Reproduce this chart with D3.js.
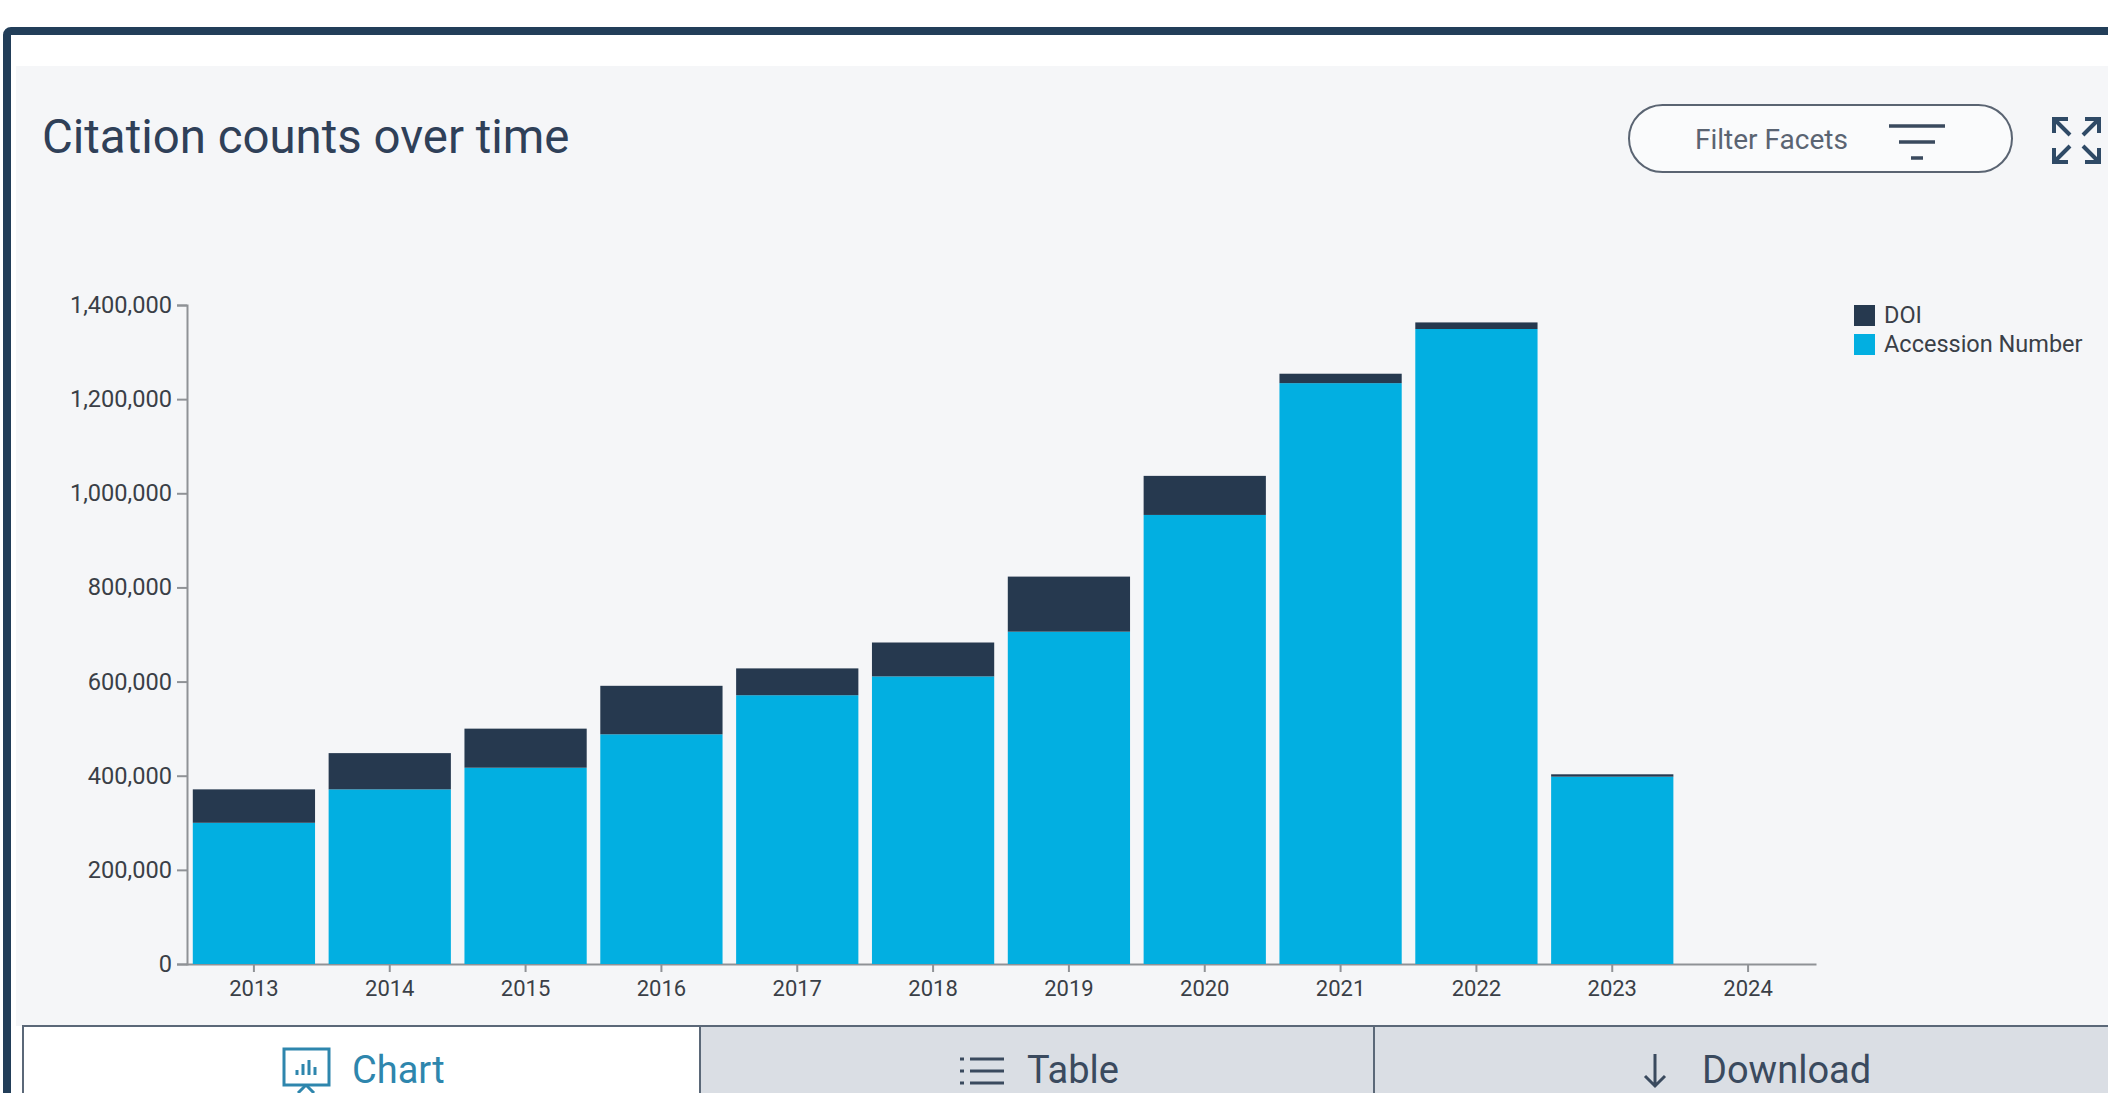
<!DOCTYPE html>
<html>
<head>
<meta charset="utf-8">
<script src="https://cdn.jsdelivr.net/npm/d3@7"></script>
<style>
  html, body { margin: 0; padding: 0; background: #fff; overflow: hidden; }
  text { font-family: "Roboto", "Inter", sans-serif; }
  svg { display: block; }
</style>
</head>
<body>
<svg id="chart" width="2108" height="1093"></svg>
<script>
const years = [2013, 2014, 2015, 2016, 2017, 2018, 2019, 2020, 2021, 2022, 2023, 2024];
const accessionNumber = [300000, 371000, 417000, 488000, 571000, 611000, 706000, 954000, 1234000, 1349000, 398000, 0];
const doi = [71000, 77000, 83000, 103000, 57000, 72000, 117000, 83000, 20000, 14000, 5000, 0];
const seriesNames = ["DOI", "Accession Number"];
const seriesColors = ["#26394f", "#02afe1"];
const yTicks = [0, 200000, 400000, 600000, 800000, 1000000, 1200000, 1400000];
const tabs = ["Chart", "Table", "Download"];

const svg = d3.select("#chart");

// Card frame and panel
svg.append("rect").attr("x", 7).attr("y", 31).attr("width", 2120).attr("height", 1090)
  .attr("rx", 4).attr("fill", "#fff").attr("stroke", "#223e59").attr("stroke-width", 8);
svg.append("rect").attr("x", 16).attr("y", 66).attr("width", 2092).attr("height", 960).attr("fill", "#f5f6f8");

svg.append("text").attr("x", 42).attr("y", 153).attr("font-size", 47.4).attr("fill", "#2f4058")
  .text("Citation counts over time");

// Filter button
svg.append("rect").attr("x", 1629).attr("y", 105).attr("width", 383).attr("height", 67).attr("rx", 33.5)
  .attr("fill", "#fafbfc").attr("stroke", "#5a6472").attr("stroke-width", 2);
svg.append("text").attr("x", 1695).attr("y", 149).attr("font-size", 28).attr("fill", "#5a6472").text("Filter Facets");
[[1889, 1945, 126], [1899, 1935, 142], [1911, 1923, 158]].forEach(([x1, x2, y]) => {
  svg.append("line").attr("x1", x1).attr("x2", x2).attr("y1", y).attr("y2", y)
    .attr("stroke", "#3a4a5e").attr("stroke-width", 3.5);
});

// Expand icon
const arrows = ["M2054 119 L2070 135 M2054 133 V119 H2068", "M2099 119 L2083 135 M2099 133 V119 H2085",
                "M2054 162 L2070 146 M2054 148 V162 H2068", "M2099 162 L2083 146 M2099 148 V162 H2085"];
arrows.forEach(d => svg.append("path").attr("d", d).attr("fill", "none").attr("stroke", "#2f4a66").attr("stroke-width", 4));

// Plot scales
const x = d3.scaleBand().domain(years).range([186, 1816]).paddingInner(0.1).paddingOuter(0.05);
const y = d3.scaleLinear().domain([0, 1400000]).range([964, 305]);

const rows = years.map((yr, i) => ({ year: yr, "Accession Number": accessionNumber[i], "DOI": doi[i] }));
const stacked = d3.stack().keys(["Accession Number", "DOI"])(rows);
const color = d3.scaleOrdinal().domain(seriesNames).range(seriesColors);

// Axes sit under the bars so the columns cover the baseline
const xAxis = svg.append("g").attr("transform", "translate(0,964)")
  .call(d3.axisBottom(x).tickSize(8).tickPadding(8).tickSizeOuter(0));
const yAxis = svg.append("g").attr("transform", "translate(187,0)")
  .call(d3.axisLeft(y).tickValues(yTicks).tickFormat(d3.format(",")).tickSize(10).tickPadding(5));
[xAxis, yAxis].forEach(g => {
  g.selectAll("path,line").attr("stroke", "#8f9296").attr("stroke-width", 2);
  g.selectAll("text").attr("fill", "#3a3f47").style("font-family", "Roboto, Inter, sans-serif");
});
xAxis.selectAll("text").attr("font-size", 22);
yAxis.selectAll("text").attr("font-size", 23.6);

svg.append("g").selectAll("g").data(stacked).join("g")
  .attr("fill", d => color(d.key))
  .selectAll("rect").data(d => d).join("rect")
  .attr("x", d => x(d.data.year))
  .attr("y", d => y(d[1]))
  .attr("width", x.bandwidth())
  .attr("height", d => y(d[0]) - y(d[1]));

// Legend
const legend = svg.append("g").selectAll("g").data(seriesNames).join("g")
  .attr("transform", (d, i) => `translate(1854,${305 + i * 29})`);
legend.append("rect").attr("width", 21).attr("height", 21).attr("fill", d => color(d));
legend.append("text").attr("x", 30).attr("y", 18).attr("font-size", 23.5).attr("fill", "#3a3f47").text(d => d);

// Tab strip
const tabX = [23, 700, 1374, 2130];
tabs.forEach((label, i) => {
  svg.append("rect").attr("x", tabX[i]).attr("y", 1026).attr("width", tabX[i + 1] - tabX[i]).attr("height", 80)
    .attr("fill", i === 0 ? "#fff" : "#dadee4").attr("stroke", "#5b6878").attr("stroke-width", 2);
});
const tabStyle = [["#2e86ad", 352], ["#3a4a5e", 1027], ["#3a4a5e", 1702]];
tabs.forEach((label, i) => {
  svg.append("text").attr("x", tabStyle[i][1]).attr("y", 1083).attr("font-size", 38).attr("fill", tabStyle[i][0]).text(label);
});

// Tab icons
const chartIcon = svg.append("g").attr("fill", "none").attr("stroke", "#2e86ad").attr("stroke-width", 3);
chartIcon.append("rect").attr("x", 284).attr("y", 1049).attr("width", 45).attr("height", 36);
chartIcon.append("path").attr("d", "M297 1075v-5M303 1075v-11M309 1075v-15M315 1075v-8M306 1085L298 1093M306 1085L314 1093");
svg.append("path").attr("d", "M970 1059H1004M970 1071H1004M970 1083H1004M960 1059H964M960 1071H964M960 1083H964")
  .attr("fill", "none").attr("stroke", "#3a4a5e").attr("stroke-width", 3);
svg.append("path").attr("d", "M1655 1054V1086M1645 1076L1655 1086L1665 1076")
  .attr("fill", "none").attr("stroke", "#3a4a5e").attr("stroke-width", 3);
</script>
</body>
</html>
